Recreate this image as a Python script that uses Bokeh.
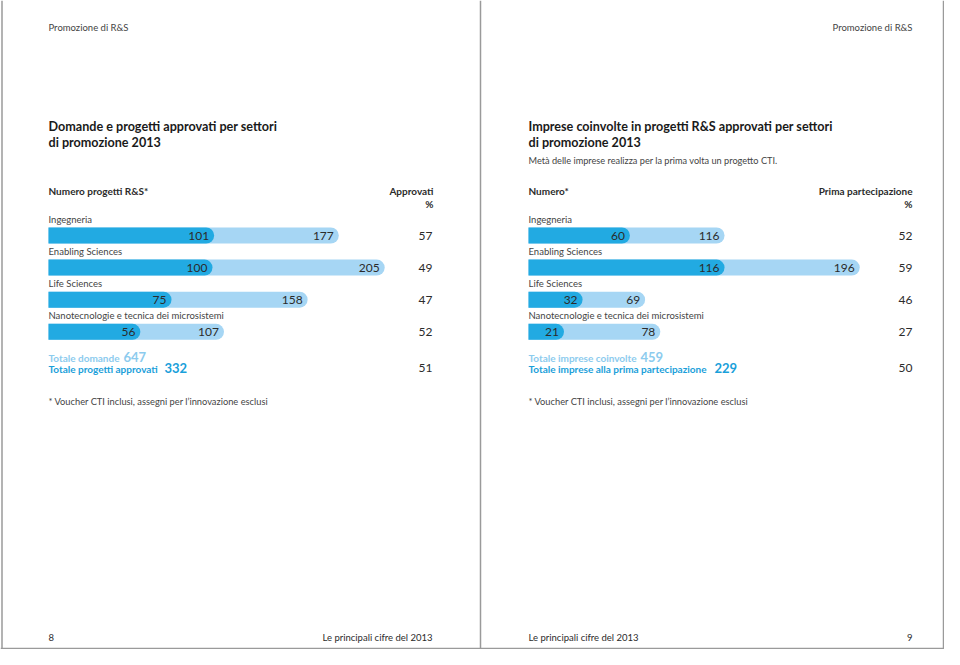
from bokeh.plotting import figure
from bokeh.models import Range1d
from bokeh.core.properties import value
from bokeh.embed import file_html
from bokeh.resources import INLINE

# ---------------- data ----------------
sectors = ["Ingegneria", "Enabling Sciences", "Life Sciences",
           "Nanotecnologie e tecnica dei microsistemi"]
# left chart: R&S projects
domande = [177, 205, 158, 107]
approvati = [101, 100, 75, 56]
approvati_pct = [57, 49, 47, 52]
totale_domande = 647
totale_approvati = 332
totale_approvati_pct = 51
# right chart: firms involved
imprese = [116, 196, 69, 78]
prima = [60, 116, 32, 21]
prima_pct = [52, 59, 46, 27]
totale_imprese = 459
totale_prima = 229
totale_prima_pct = 50

# ---------------- style ----------------
FONT = value("Lato")
DARK = "#22aae2"
LIGHT = "#a6d6f4"
TXT = "#2b2b2b"
GRAY = "#444444"
TOT_LIGHT = "#8ccbee"
TOT_DARK = "#1aa0da"
BORDER = "#9a9a9a"

W, H = 944, 649
p = figure(width=W, height=H, x_range=Range1d(0, W), y_range=Range1d(H, 0),
           output_backend="svg", toolbar_location=None, min_border=0,
           x_axis_location=None, y_axis_location=None)
p.grid.visible = False
p.outline_line_color = None
p.background_fill_color = "white"
p.border_fill_color = "white"

LK, LX0 = 1.64, 48
RK, RX0 = 1.69, 528
p.extra_x_ranges["L"] = Range1d((0 - LX0) / LK, (W - LX0) / LK)
p.extra_x_ranges["R"] = Range1d((0 - RX0) / RK, (W - RX0) / RK)


def txt(x, y, s, size="10px", color=TXT, align="left", style="normal", rng="default", xoff=0):
    p.text(x=[x], y=[y], text=[s], text_font=FONT, text_font_size=size,
           text_color=color, text_align=align, text_baseline="middle",
           text_font_style=style, x_range_name=rng, x_offset=xoff)


# page frame
p.segment(x0=[1.5, 480, W - 1, 0], y0=[0, 0, 0, H - 1], x1=[1.5, 480, W - 1, W],
          y1=[H, H, H, H - 1], line_color=BORDER, line_width=1.5)

# running headers / footers
txt(48, 27, "Promozione di R&S", "9.5px", GRAY)
txt(912, 27, "Promozione di R&S", "9.5px", GRAY, "right")
txt(48, 637, "8", "9.5px", TXT)
txt(432, 637, "Le principali cifre del 2013", "9.5px", TXT, "right")
txt(528, 637, "Le principali cifre del 2013", "9.5px", TXT)
txt(912, 637, "9", "9.5px", TXT, "right")

# titles
txt(48, 126, "Domande e progetti approvati per settori", "12.6px", "#1a1a1a", style="bold")
txt(48, 142, "di promozione 2013", "12.6px", "#1a1a1a", style="bold")
txt(528, 126, "Imprese coinvolte in progetti R&S approvati per settori", "12.6px", "#1a1a1a", style="bold")
txt(528, 142, "di promozione 2013", "12.6px", "#1a1a1a", style="bold")
txt(528, 160, "Metà delle imprese realizza per la prima volta un progetto CTI.", "9.2px", GRAY)

# column headers
txt(48, 190, "Numero progetti R&S*", "10px", TXT, style="bold")
txt(433, 190, "Approvati", "10px", TXT, "right", "bold")
txt(433, 203, "%", "10px", TXT, "right", "bold")
txt(528, 190, "Numero*", "10px", TXT, style="bold")
txt(912, 190, "Prima partecipazione", "10px", TXT, "right", "bold")
txt(912, 203, "%", "10px", TXT, "right", "bold")

rows_y = [235 + i * 32.1 for i in range(len(sectors))]
label_y = [y - 16.5 for y in rows_y]
BH = 16
RAD = (0, 8, 8, 0)

for rng, x0, big, small, pcts, pct_x in (("L", 48, domande, approvati, approvati_pct, 432),
                                         ("R", 528, imprese, prima, prima_pct, 912)):
    p.text(x=[x0] * len(sectors), y=label_y, text=sectors, text_font=FONT,
           text_font_size="9.5px", text_color=GRAY, text_baseline="middle")
    p.hbar(y=rows_y, left=0, right=big, height=BH, fill_color=LIGHT, line_color=None,
           border_radius=RAD, x_range_name=rng)
    p.hbar(y=rows_y, left=0, right=small, height=BH, fill_color=DARK, line_color=None,
           border_radius=RAD, x_range_name=rng)
    p.text(x=big, y=rows_y, text=[str(v) for v in big], text_font=FONT, text_font_size="12px",
           text_color=TXT, text_align="right", text_baseline="middle", x_offset=-5,
           x_range_name=rng)
    p.text(x=small, y=rows_y, text=[str(v) for v in small], text_font=FONT, text_font_size="12px",
           text_color=TXT, text_align="right", text_baseline="middle", x_offset=-5,
           x_range_name=rng)
    p.text(x=[pct_x] * len(pcts), y=rows_y, text=[str(v) for v in pcts], text_font=FONT,
           text_font_size="12px", text_color=TXT, text_align="right", text_baseline="middle")

# totals left
txt(48, 357, "Totale domande", "10px", TOT_LIGHT, style="bold")
txt(123, 356, str(totale_domande), "13px", TOT_LIGHT, style="bold")
txt(48, 368.5, "Totale progetti approvati", "10px", TOT_DARK, style="bold")
txt(164, 367.5, str(totale_approvati), "13px", TOT_DARK, style="bold")
txt(432, 367, str(totale_approvati_pct), "12px", TXT, "right")
# totals right
txt(528, 357, "Totale imprese coinvolte", "10px", TOT_LIGHT, style="bold")
txt(640, 356, str(totale_imprese), "13px", TOT_LIGHT, style="bold")
txt(528, 368.5, "Totale imprese alla prima partecipazione", "10px", TOT_DARK, style="bold")
txt(714, 367.5, str(totale_prima), "13px", TOT_DARK, style="bold")
txt(912, 367, str(totale_prima_pct), "12px", TXT, "right")

# footnotes
txt(48, 401, "* Voucher CTI inclusi, assegni per l’innovazione esclusi", "9.3px", GRAY)
txt(528, 401, "* Voucher CTI inclusi, assegni per l’innovazione esclusi", "9.3px", GRAY)

open("out.html", "w").write(file_html(p, INLINE))
